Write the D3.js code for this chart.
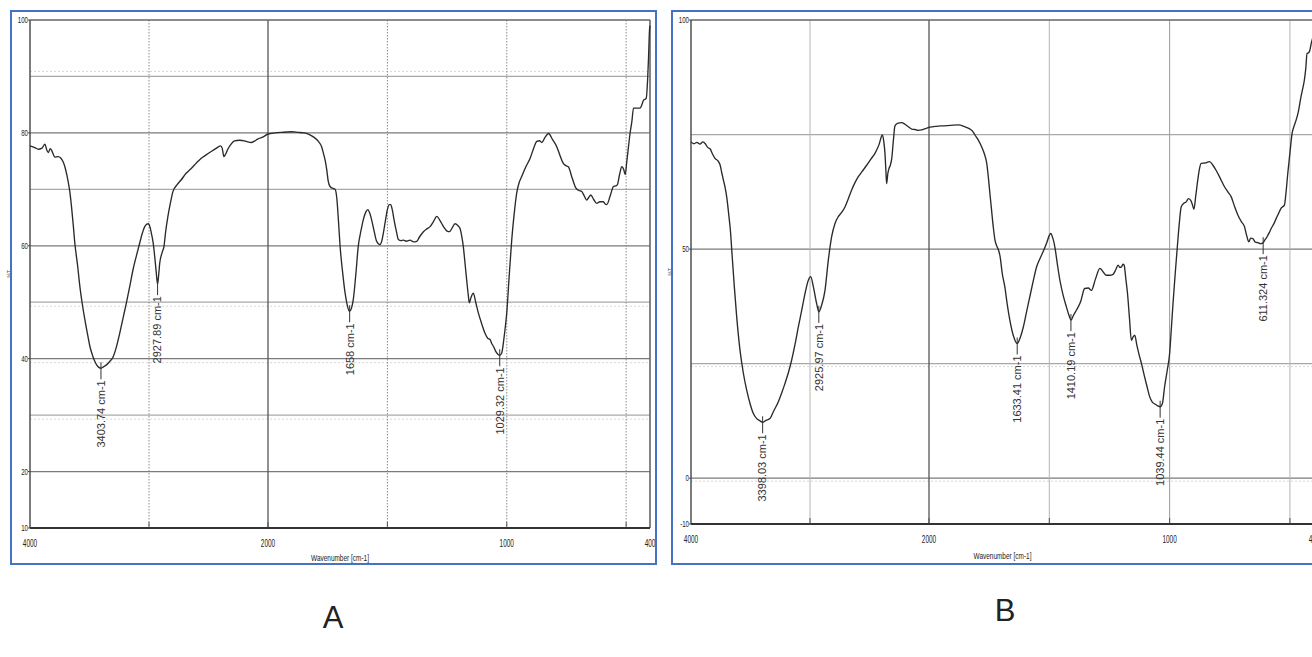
<!DOCTYPE html>
<html><head><meta charset="utf-8">
<script src="https://cdn.jsdelivr.net/npm/d3@7"></script>
<style>body{margin:0;background:#fff;} svg{display:block;font-family:'Liberation Sans',Arial,sans-serif}</style>
</head><body><svg id="c" width="1312" height="657"></svg>
<script>
// ---------- DATA ----------
const xTickLabels = [4000, 2000, 1000, 400];
const yTickLabelsA = [100, 80, 60, 40, 20, 10];
const yTickLabelsB = [100, 50, 0, -10];
const gridWaves = [3000, 2000, 1500, 1000, 500];
const gridTransA = [90, 80, 70, 60, 50, 40, 30, 20];
const gridTransB = [75, 50, 25, 0];
const xTitle = "Wavenumber [cm-1]";
const yTitle = "%T";
const panelNames = ["A", "B"];

const waveA = [4000,3960,3930,3900,3874,3860,3846,3830,3818,3800,3790,3765,3740,3720,3707,3690,3679,3665,3651,3637,3623,3600,3581,3560,3539,3517,3497,3475,3455,3430,3404,3380,3357,3330,3302,3275,3246,3218,3190,3160,3134,3105,3078,3055,3036,3008,2990,2980,2965,2952,2940,2928,2918,2910,2890,2874,2860,2841,2820,2799,2765,2729,2690,2645,2600,2561,2520,2477,2440,2399,2385,2371,2355,2338,2310,2282,2240,2198,2170,2142,2110,2087,2040,2000,1970,1943,1900,1873,1850,1831,1810,1789,1775,1768,1760,1754,1748,1740,1730,1719,1712,1705,1698,1688,1677,1668,1659,1650,1643,1632,1622,1610,1601,1590,1582,1574,1566,1555,1545,1531,1523,1517,1508,1500,1492,1486,1479,1472,1462,1454,1443,1433,1420,1405,1390,1377,1365,1349,1335,1321,1307,1293,1280,1265,1250,1240,1228,1217,1205,1196,1189,1182,1175,1168,1161,1157,1150,1140,1130,1119,1105,1091,1080,1070,1063,1056,1045,1035,1029,1021,1012,1005,1000,990,979,968,958,948,937,920,902,888,874,863,853,840,825,808,791,777,763,752,742,726,710,698,686,675,665,656,648,636,623,610,595,588,581,567,553,545,537,528,518,510,504,497,490,484,476,469,455,441,434,427,416,410,406,402,400];
const transA = [77.7,77.4,77.1,77.3,78.0,77.0,76.5,77.2,76.9,76.0,75.7,75.8,75.5,74.8,74.0,72.5,71.3,69.5,66.9,63.8,60.4,56.5,52.8,49.6,46.9,44.4,42.2,40.6,39.5,38.6,38.3,38.6,38.9,39.5,40.3,42.0,44.5,47.2,49.9,53.0,55.8,58.3,60.5,62.3,63.4,63.9,63.2,62.2,60.5,58.1,55.5,53.2,55.0,56.9,58.8,59.9,62.5,65.2,67.6,69.6,70.8,71.7,72.8,73.7,74.7,75.5,76.1,76.7,77.2,77.7,77.3,75.8,76.3,77.1,78.0,78.6,78.7,78.6,78.4,78.3,78.6,78.9,79.3,79.8,80.0,80.1,80.2,80.1,80.0,79.8,79.3,78.5,77.5,76.4,75.0,73.5,71.5,70.5,70.2,70.0,68.5,64.5,59.9,55.5,51.6,49.5,48.4,49.0,50.4,55.0,59.9,62.8,64.6,66.0,66.4,65.8,64.6,62.5,60.8,60.2,60.9,62.2,64.5,66.4,67.3,67.3,66.3,64.6,62.5,61.1,60.9,61.0,60.8,61.0,60.7,60.8,61.6,62.5,63.0,63.4,64.3,65.2,64.5,63.4,62.6,62.5,63.2,63.9,63.6,63.1,61.8,59.9,57.0,54.0,51.2,49.9,50.8,51.6,50.0,48.1,46.2,44.5,43.6,43.4,42.7,42.2,41.2,40.7,40.6,41.0,43.5,46.0,48.1,54.5,61.1,66.0,69.4,71.2,72.3,74.0,75.5,77.2,78.5,78.6,78.3,79.2,79.9,78.8,77.6,76.0,74.6,74.2,74.0,72.0,70.2,69.8,69.6,68.8,68.1,68.6,69.0,68.2,67.5,67.8,67.8,67.4,67.3,68.8,70.5,70.6,70.8,72.5,74.0,73.5,72.6,75.0,77.6,79.8,82.0,84.4,84.4,84.4,85.0,85.8,86.1,89.4,93.5,98.2,99.0];
const peakWaveA = [3403.74, 2927.89, 1658, 1029.32];
const peakTransA = [38.3, 53.2, 48.4, 40.6];
const peakLabelA = ["3403.74 cm-1", "2927.89 cm-1", "1658 cm-1", "1029.32 cm-1"];

const waveB = [4000,3975,3950,3925,3900,3880,3860,3840,3820,3798,3775,3756,3740,3728,3714,3700,3681,3668,3658,3646,3636,3616,3588,3560,3532,3504,3476,3448,3420,3398,3370,3336,3308,3266,3238,3210,3182,3154,3126,3098,3070,3042,3014,2994,2972,2944,2926,2902,2874,2846,2818,2790,2762,2734,2706,2678,2650,2622,2594,2560,2524,2490,2454,2420,2392,2380,2370,2362,2356,2346,2336,2325,2313,2300,2286,2260,2230,2200,2174,2145,2118,2090,2062,2030,1996,1970,1947,1910,1878,1855,1837,1820,1809,1795,1781,1770,1760,1753,1747,1740,1733,1726,1718,1712,1705,1695,1685,1675,1664,1650,1633,1620,1608,1595,1581,1567,1553,1540,1526,1510,1500,1494,1486,1477,1466,1456,1443,1429,1418,1410,1400,1387,1370,1353,1338,1325,1308,1290,1276,1263,1249,1235,1224,1214,1207,1200,1194,1189,1182,1175,1167,1159,1152,1145,1136,1128,1116,1104,1093,1083,1072,1062,1050,1039,1030,1021,1010,1000,993,986,977,968,960,952,941,931,922,913,906,899,891,883,876,869,852,834,820,807,790,772,758,744,730,716,702,689,680,671,663,654,644,633,623,613,604,595,586,578,567,557,547,537,523,516,509,500,491,483,474,465,454,447,440,434,429,424,419,411,400];
const transB = [73.4,73.0,73.3,72.9,73.4,73.0,72.2,71.9,70.8,69.8,69.3,68.4,66.5,65.1,63.5,61.4,57.1,53.8,50.0,45.5,41.8,35.2,27.9,22.9,19.2,16.3,14.1,13.0,12.5,12.2,12.6,13.0,14.5,16.7,18.6,20.7,23.0,25.8,29.2,33.0,36.6,40.3,43.2,44.0,41.8,38.1,36.3,37.8,41.0,47.6,52.7,55.6,57.1,58.0,59.2,61.0,62.9,64.5,65.8,67.0,68.3,69.6,70.9,72.8,74.9,73.5,70.9,67.0,64.3,66.5,67.6,68.3,69.8,73.5,76.9,77.5,77.6,77.2,76.7,76.2,76.1,75.9,76.0,76.3,76.6,76.8,76.9,77.0,77.1,76.8,76.4,75.8,74.9,73.8,72.3,70.8,68.7,65.5,62.2,58.5,54.9,52.0,50.6,49.9,48.5,44.5,41.8,38.0,34.5,31.2,29.4,30.8,33.0,36.2,39.6,43.0,46.1,47.8,49.4,51.5,53.0,53.4,52.5,50.5,46.5,43.2,40.0,37.4,35.5,34.5,35.5,36.7,38.5,41.4,41.5,41.0,43.5,45.8,45.0,44.3,44.3,44.5,45.5,46.5,46.0,46.1,46.7,46.5,43.5,40.3,35.0,30.1,30.8,31.2,29.0,27.2,24.8,22.1,19.8,17.8,16.6,16.2,15.8,15.6,16.3,19.9,23.5,27.2,32.5,38.1,44.5,50.5,55.5,59.2,60.0,60.3,61.0,60.7,59.8,58.7,61.8,65.1,67.5,68.7,68.8,69.1,68.3,67.2,65.5,63.6,62.5,61.4,59.3,57.4,56.0,54.9,53.0,51.6,52.4,52.3,51.5,51.4,51.2,51.3,52.0,52.7,53.6,54.5,55.5,56.7,57.8,58.9,59.6,62.5,66.5,71.0,75.3,76.8,78.2,80.0,83.3,85.0,86.9,89.5,92.7,92.8,93.1,95.0,97.0];
const peakWaveB = [3398.03, 2925.97, 1633.41, 1410.19, 1039.44, 611.324];
const peakTransB = [12.2, 36.3, 29.4, 34.5, 15.6, 51.3];
const peakLabelB = ["3398.03 cm-1", "2925.97 cm-1", "1633.41 cm-1", "1410.19 cm-1", "1039.44 cm-1", "611.324 cm-1"];

// ---------- DRAW ----------
const svg = d3.select('#c');

function condense(sel, f) {
  sel.each(function () {
    const L = this.getComputedTextLength();
    d3.select(this).attr('textLength', L * f).attr('lengthAdjust', 'spacingAndGlyphs');
  });
}

function drawPanel(o) {
  const g = svg.append('g');
  const x = d3.scaleLinear().domain([4000, 2000, 400]).range(o.xr);
  const y = d3.scaleLinear().domain(o.yd).range(o.yr);
  const [xl, xr] = [x(4000), x(400)];
  const [yb, yt] = o.yr;

  g.selectAll('.hg').data(o.hGrid).enter().append('line')
    .attr('x1', xl).attr('x2', xr)
    .attr('y1', d => y(d)).attr('y2', d => y(d))
    .attr('stroke', d => o.hMajor(d) ? '#7a7a7a' : '#a8a8a8')
    .attr('stroke-width', 1.2);
  g.selectAll('.hg2').data(o.hGrid.filter(o.hDotted)).enter().append('line')
    .attr('x1', xl).attr('x2', xr)
    .attr('y1', d => y(d) + o.dotOff(d)).attr('y2', d => y(d) + o.dotOff(d))
    .attr('stroke', '#d8d8d8').attr('stroke-dasharray', '2,2').attr('stroke-width', 1);

  g.selectAll('.vg').data(gridWaves).enter().append('line')
    .attr('x1', d => x(d)).attr('x2', d => x(d))
    .attr('y1', yt).attr('y2', yb)
    .attr('stroke', d => d === 2000 ? '#555' : o.vColor(d))
    .attr('stroke-width', d => d === 2000 ? 1.3 : 1)
    .attr('stroke-dasharray', d => d === 2000 ? null : o.vDash);

  g.selectAll('.bt').data(gridWaves).enter().append('line')
    .attr('x1', d => x(d)).attr('x2', d => x(d))
    .attr('y1', yb - 6).attr('y2', yb)
    .attr('stroke', '#555').attr('stroke-width', 1);

  g.append('line').attr('x1', xl).attr('x2', xr).attr('y1', yt).attr('y2', yt).attr('stroke', '#666').attr('stroke-width', 1.6);
  g.append('line').attr('x1', xl).attr('x2', xl).attr('y1', yt).attr('y2', yb).attr('stroke', '#444').attr('stroke-width', 1.4);
  g.append('line').attr('x1', xr).attr('x2', xr).attr('y1', yt).attr('y2', yb).attr('stroke', '#666').attr('stroke-width', 1.6);
  g.append('line').attr('x1', xl).attr('x2', xr).attr('y1', yb).attr('y2', yb).attr('stroke', '#333').attr('stroke-width', 1.8);

  g.selectAll('.lt').data(o.yTicks).enter().append('line')
    .attr('x1', xl - 2).attr('x2', xl).attr('y1', d => y(d)).attr('y2', d => y(d))
    .attr('stroke', '#444');

  const yl = g.selectAll('.yl').data(o.yTicks).enter().append('text')
    .attr('x', xl - 2).attr('y', d => y(d)).attr('dy', '0.35em')
    .attr('text-anchor', 'end').attr('font-size', 8.5).attr('fill', '#222')
    .text(d => d);
  condense(yl, 0.72);

  const xlb = g.selectAll('.xl').data(xTickLabels).enter().append('text')
    .attr('x', d => x(d)).attr('y', yb + o.xLabOff)
    .attr('text-anchor', 'middle').attr('font-size', 11.5).attr('fill', '#222')
    .text(d => d);
  condense(xlb, 0.56);

  const xt = g.append('text').attr('x', (xl + xr) / 2).attr('y', yb + o.xTitleOff)
    .attr('text-anchor', 'middle').attr('font-size', 9.5).attr('fill', '#222').text(xTitle);
  condense(xt, 0.68);
  const yt2 = g.append('text').attr('transform', `translate(${xl - 18},${(yt + yb) / 2}) rotate(-90)`)
    .attr('text-anchor', 'middle').attr('font-size', 7).attr('fill', '#555').text(yTitle);
  condense(yt2, 0.7);

  const pts = o.wave.map((w, i) => [w, o.trans[i]]);
  const line = d3.line().x(d => x(d[0])).y(d => y(d[1])).curve(d3.curveMonotoneX);
  g.append('path').datum(pts).attr('d', line)
    .attr('fill', 'none').attr('stroke', '#2a2a2a').attr('stroke-width', 1.35)
    .attr('stroke-linejoin', 'round');

  o.peakW.forEach((w, i) => {
    const px = x(w), py = y(o.peakT[i]);
    g.append('line').attr('x1', px).attr('x2', px).attr('y1', py - 6).attr('y2', py + 11)
      .attr('stroke', '#333').attr('stroke-width', 1);
    g.append('text')
      .attr('transform', `translate(${px},${py + 12}) rotate(-90)`)
      .attr('text-anchor', 'end').attr('dy', '0.35em')
      .attr('font-size', o.peakFont).attr('fill', '#333')
      .text(o.peakL[i]);
  });

  g.append('rect').attr('x', o.box[0]).attr('y', o.box[1]).attr('width', o.box[2]).attr('height', o.box[3])
    .attr('fill', 'none').attr('stroke', '#4472C4').attr('stroke-width', 2);

  g.append('text').attr('x', o.letter[0]).attr('y', o.letter[1])
    .attr('text-anchor', 'middle').attr('font-size', 31).attr('fill', '#222')
    .text(o.name);
}

drawPanel({
  name: panelNames[0],
  xr: [30, 268, 650], yd: [10, 100], yr: [528, 20],
  hGrid: gridTransA, hMajor: d => d % 20 === 0,
  hDotted: d => [90, 50, 40, 30].includes(d), dotOff: d => d === 90 ? -5 : 4,
  vColor: d => '#8a8a8a', vDash: '1.5,1.5',
  yTicks: yTickLabelsA, xLabOff: 19, xTitleOff: 33,
  wave: waveA, trans: transA,
  peakW: peakWaveA, peakT: peakTransA, peakL: peakLabelA, peakFont: 11,
  box: [11, 11, 645, 553], letter: [333, 628]
});

drawPanel({
  name: panelNames[1],
  xr: [691, 929, 1314], yd: [-10, 100], yr: [524, 20],
  hGrid: gridTransB, hMajor: d => d % 50 === 0,
  hDotted: d => d === 25 || d === 0, dotOff: d => 3,
  vColor: d => d === 1000 ? '#999' : '#b5b5b5', vDash: null,
  yTicks: yTickLabelsB, xLabOff: 19, xTitleOff: 35,
  wave: waveB, trans: transB,
  peakW: peakWaveB, peakT: peakTransB, peakL: peakLabelB, peakFont: 11,
  box: [672, 11, 660, 553], letter: [1005, 621]
});
</script></body></html>
